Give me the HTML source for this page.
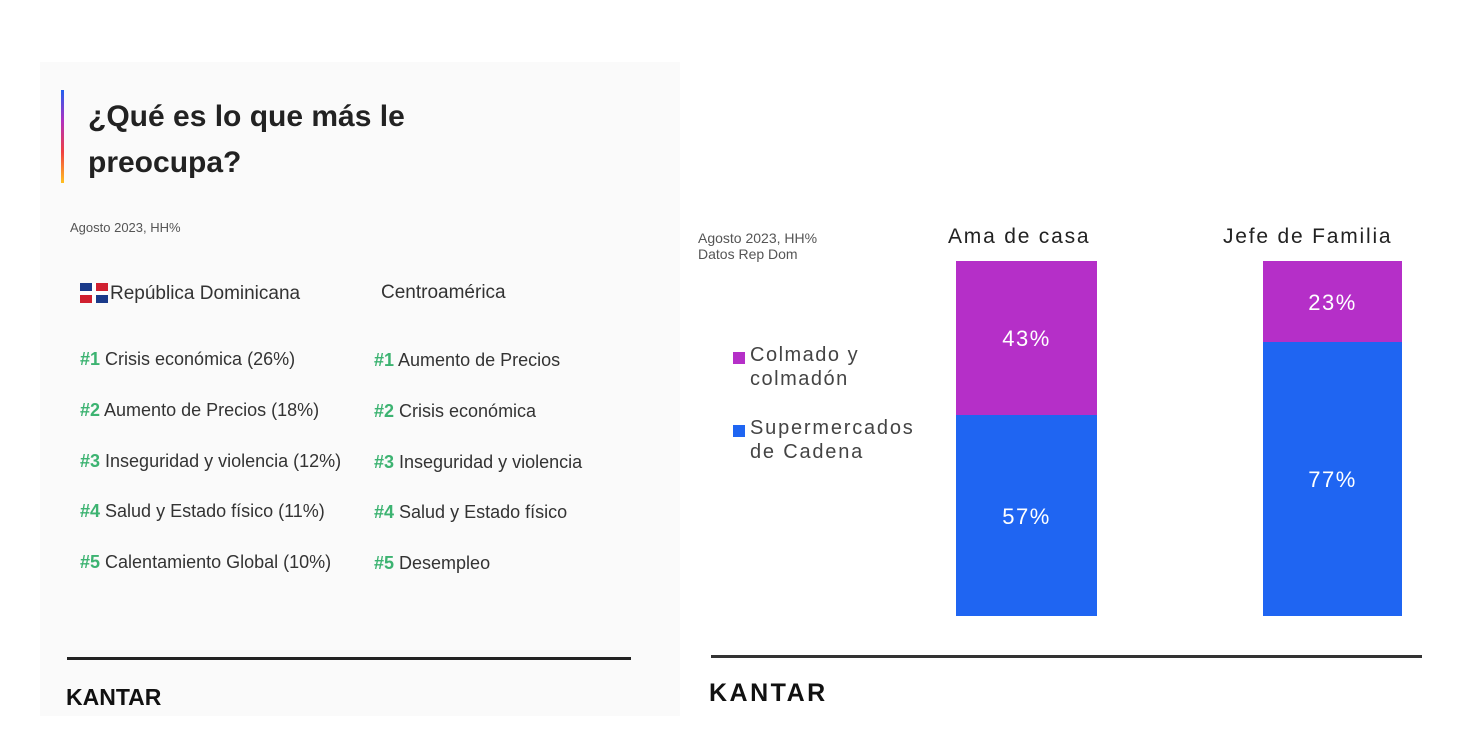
<!DOCTYPE html>
<html><head><meta charset="utf-8"><style>
body{margin:0;width:1458px;height:746px;background:#fff;position:relative;overflow:hidden;font-family:"Liberation Sans",sans-serif;}
.a{position:absolute;white-space:nowrap}
.it{font-size:18px;color:#333}
.it b{color:#3cb371}
.pct{color:#fff;font-size:22px;text-align:center;width:100%;position:absolute;letter-spacing:1.5px}
</style></head><body>
<div class="a" style="left:40px;top:62px;width:640px;height:654px;background:#fafafa"></div>
<div class="a" style="left:61px;top:90px;width:3px;height:93px;background:linear-gradient(#2060f0,#b030c0,#f04040,#ffc020)"></div>
<div class="a" style="left:88px;top:94px;font-size:30px;line-height:46px;color:#222;font-weight:bold">¿Qué es lo que más le<br>preocupa?</div>
<div class="a" style="left:70px;top:220px;font-size:13px;color:#555">Agosto 2023, HH%</div>
<svg class="a" style="left:80px;top:283px" width="28" height="20"><rect width="28" height="20" fill="#fff"/><rect x="0" y="0" width="12" height="8" fill="#1a3a8a"/><rect x="16" y="0" width="12" height="8" fill="#d02030"/><rect x="0" y="12" width="12" height="8" fill="#d02030"/><rect x="16" y="12" width="12" height="8" fill="#1a3a8a"/></svg>
<div class="a" style="left:110px;top:283px;font-size:19px;color:#333">República Dominicana</div>
<div class="a" style="left:381px;top:282px;font-size:19px;color:#333">Centroamérica</div>
<div class="a it" style="left:80px;top:349px"><b>#1</b> Crisis económica (26%)</div>
<div class="a it" style="left:80px;top:400px"><b>#2</b> Aumento de Precios (18%)</div>
<div class="a it" style="left:80px;top:451px"><b>#3</b> Inseguridad y violencia (12%)</div>
<div class="a it" style="left:80px;top:501px"><b>#4</b> Salud y Estado físico (11%)</div>
<div class="a it" style="left:80px;top:552px"><b>#5</b> Calentamiento Global (10%)</div>
<div class="a it" style="left:374px;top:350px"><b>#1</b> Aumento de Precios</div>
<div class="a it" style="left:374px;top:401px"><b>#2</b> Crisis económica</div>
<div class="a it" style="left:374px;top:452px"><b>#3</b> Inseguridad y violencia</div>
<div class="a it" style="left:374px;top:502px"><b>#4</b> Salud y Estado físico</div>
<div class="a it" style="left:374px;top:553px"><b>#5</b> Desempleo</div>
<div class="a" style="left:67px;top:657px;width:564px;height:3px;background:#222"></div>
<div class="a" style="left:66px;top:684px;font-size:23px;font-weight:bold;color:#111">KANTAR</div>

<div class="a" style="left:698px;top:230px;font-size:14px;line-height:16px;color:#555">Agosto 2023, HH%<br>Datos Rep Dom</div>
<div class="a" style="left:948px;top:225px;font-size:21px;color:#222;letter-spacing:1.8px">Ama de casa</div>
<div class="a" style="left:1223px;top:225px;font-size:21px;color:#222;letter-spacing:1.8px">Jefe de Familia</div>
<div class="a" style="left:733px;top:352px;width:12px;height:12px;background:#b52fc8"></div>
<div class="a" style="left:750px;top:343px;font-size:20px;line-height:24px;color:#444;letter-spacing:1.5px">Colmado y<br>colmadón</div>
<div class="a" style="left:733px;top:425px;width:12px;height:12px;background:#1f65f2"></div>
<div class="a" style="left:750px;top:416px;font-size:20px;line-height:24px;color:#444;letter-spacing:1.8px">Supermercados<br>de Cadena</div>
<div class="a" style="left:956px;top:261px;width:141px;height:154px;background:#b52fc8"><div class="pct" style="top:65px">43%</div></div>
<div class="a" style="left:956px;top:415px;width:141px;height:201px;background:#1f65f2"><div class="pct" style="top:89px">57%</div></div>
<div class="a" style="left:1263px;top:261px;width:139px;height:81px;background:#b52fc8"><div class="pct" style="top:29px">23%</div></div>
<div class="a" style="left:1263px;top:342px;width:139px;height:274px;background:#1f65f2"><div class="pct" style="top:125px">77%</div></div>
<div class="a" style="left:711px;top:655px;width:711px;height:3px;background:#333"></div>
<div class="a" style="left:709px;top:679px;font-size:25px;font-weight:bold;color:#111;letter-spacing:2.5px">KANTAR</div>
</body></html>
